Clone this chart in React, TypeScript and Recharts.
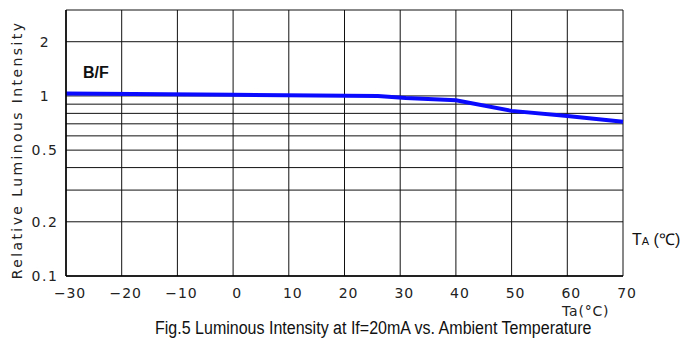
import { LineChart, Line, XAxis, YAxis, CartesianGrid } from 'recharts'

// Ta (°C) vs relative luminous intensity
const temps = [-30, 0, 26, 31, 40, 50, 60, 70]
const intensity = [1.03, 1.015, 1.0, 0.975, 0.945, 0.826, 0.774, 0.718]

const xTicks = [-30, -20, -10, 0, 10, 20, 30, 40, 50, 60, 70]
const yTicks = [0.1, 0.2, 0.3, 0.4, 0.5, 0.6, 0.7, 0.8, 0.9, 1, 2, 3]
const yLabeled = [0.1, 0.2, 0.5, 1, 2]

const data = temps.map((t, i) => ({ t, v: intensity[i] }))

const tickFont = '"DejaVu Sans", sans-serif'
const arial = 'Arial, "Liberation Sans", sans-serif'

function XTick(props: any) {
  const { x, y, payload } = props
  const v = payload.value as number
  const label = v < 0 ? `\u2212${Math.abs(v)}` : `${v}`
  return (
    <text x={x + 4} y={y + 20} textAnchor="middle" fontFamily={tickFont} fontSize={14} letterSpacing={0.9} fill="#222">
      {label}
    </text>
  )
}

function YTick(props: any) {
  const { y, payload } = props
  const v = payload.value as number
  if (!yLabeled.includes(v)) return null
  return (
    <text x={45} y={y + 5} textAnchor="middle" fontFamily={tickFont} fontSize={14} letterSpacing={1.5} fill="#222">
      {v}
    </text>
  )
}

export default function App() {
  return (
    <div style={{ position: 'absolute', left: 0, top: 0, width: 688, height: 342, background: '#fff' }}>
      <LineChart width={688} height={342} data={data} margin={{ top: 10, right: 65, bottom: 36, left: 6 }}>
        <CartesianGrid stroke="#111" strokeWidth={1} horizontalValues={yTicks} verticalValues={xTicks} />
        <XAxis
          dataKey="t"
          type="number"
          domain={[-30, 70]}
          ticks={xTicks}
          interval={0}
          height={30}
          tickLine={false}
          tickSize={0}
          tick={<XTick />}
          axisLine={{ stroke: '#000', strokeWidth: 1.5 }}
        />
        <YAxis
          type="number"
          scale="log"
          domain={[0.1, 3]}
          ticks={yTicks}
          interval={0}
          allowDataOverflow
          width={60}
          tickLine={false}
          tickSize={0}
          tick={<YTick />}
          axisLine={{ stroke: '#000', strokeWidth: 1.5 }}
        />
        <Line
          dataKey="v"
          type="linear"
          stroke="#0a0aff"
          strokeWidth={4}
          dot={false}
          isAnimationActive={false}
        />
      </LineChart>

      <div
        style={{
          position: 'absolute', left: 17, top: 150, transform: 'translate(-50%, -50%) rotate(-90deg)',
          whiteSpace: 'nowrap', fontFamily: tickFont, fontSize: 14, letterSpacing: 2.4, color: '#222'
        }}
      >
        Relative Luminous Intensity
      </div>
      <div style={{ position: 'absolute', left: 83, top: 64, fontFamily: arial, fontWeight: 'bold', fontSize: 16, color: '#111' }}>
        B/F
      </div>
      <div style={{ position: 'absolute', left: 632, top: 228, fontFamily: arial, fontSize: 16, color: '#111', whiteSpace: 'nowrap' }}>
        T<span style={{ fontSize: 11 }}>A</span> (℃)
      </div>
      <div style={{ position: 'absolute', left: 562, top: 303, fontFamily: tickFont, fontSize: 14, letterSpacing: 0.8, color: '#222', whiteSpace: 'nowrap' }}>
        Ta(°C)
      </div>
      <div
        style={{
          position: 'absolute', left: 155, top: 318, fontFamily: arial, fontSize: 18, color: '#111',
          whiteSpace: 'nowrap', transform: 'scaleX(0.89)', transformOrigin: 'left center'
        }}
      >
        Fig.5 Luminous Intensity at If=20mA vs. Ambient Temperature
      </div>
    </div>
  )
}
